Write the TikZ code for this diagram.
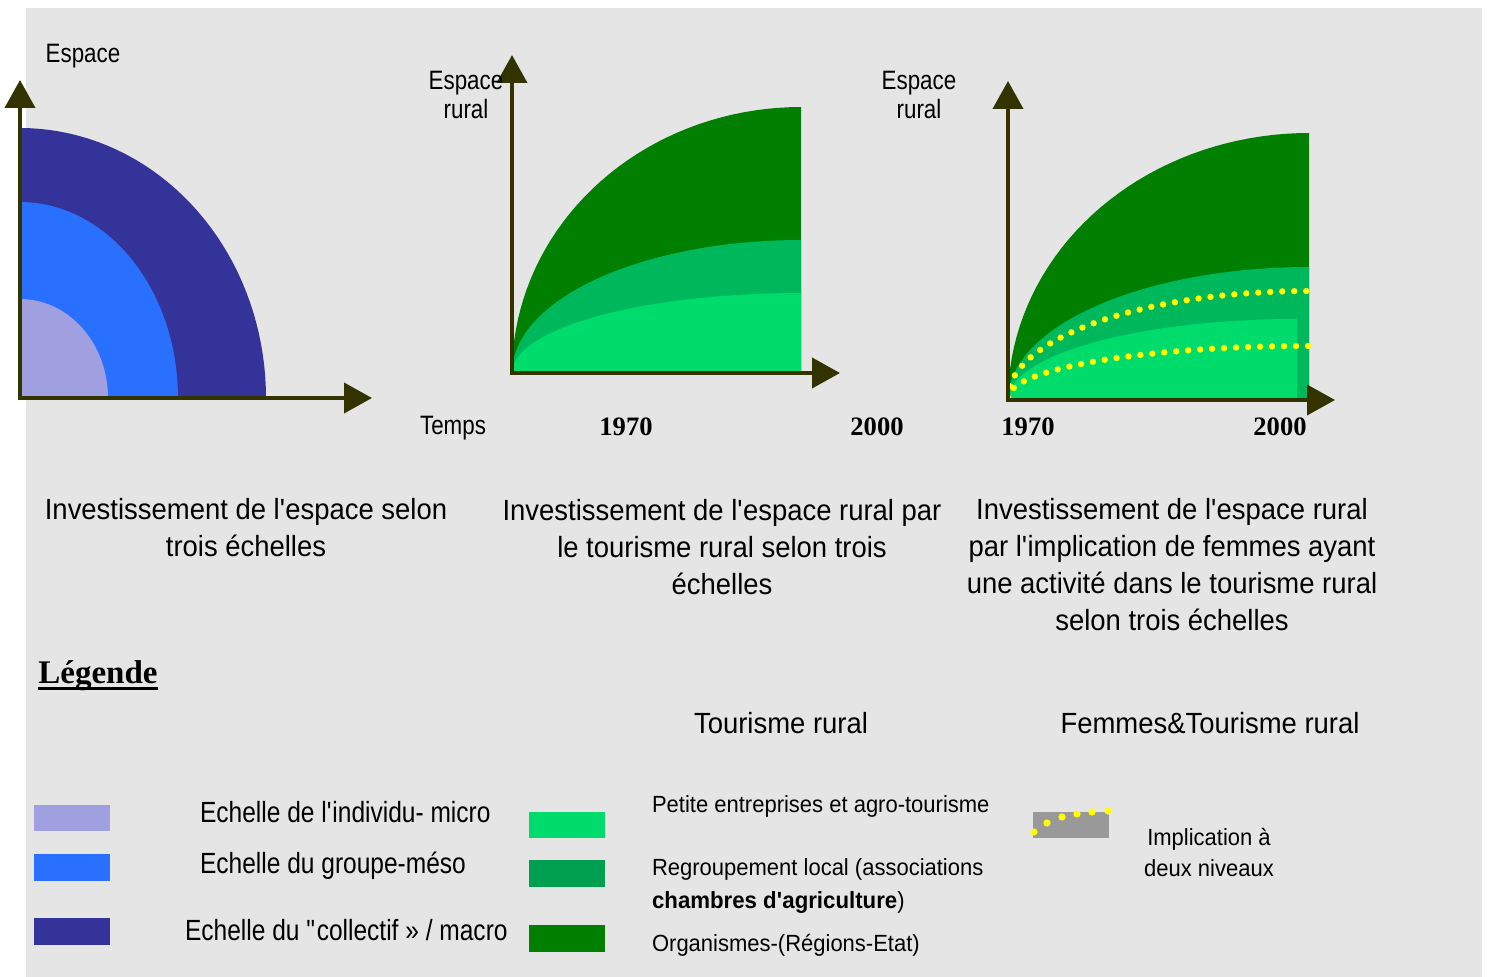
\documentclass[tikz,border=0pt]{standalone}
\usepackage{fontspec}
\setmainfont{Liberation Sans}[FakeStretch=0.94]
\newfontfamily\etroit{Liberation Sans}[FakeStretch=0.84]
\newfontfamily\largegras{Liberation Sans}[FakeStretch=0.95]
\newfontfamily\serifgras{Liberation Serif}
\usetikzlibrary{arrows.meta}

\definecolor{fond}{HTML}{E5E5E5}
\definecolor{axecol}{HTML}{333300}
\definecolor{micro}{HTML}{A0A0E0}
\definecolor{meso}{HTML}{2970FF}
\definecolor{macro}{HTML}{333399}
\definecolor{vertclair}{HTML}{00DC6C}
\definecolor{vertmoyen}{HTML}{00B85C}
\definecolor{vertlegende}{HTML}{00A050}
\definecolor{vertfonce}{HTML}{007F00}
\definecolor{gris}{HTML}{999999}
\definecolor{jaune}{HTML}{FFFF00}

\newcommand\apos{\textquotesingle}

\tikzset{
  axe/.style={draw=axecol, line width=2pt, -{Triangle[length=14pt,width=15pt]}},
  titre/.style={align=center, font=\fontsize{14.6}{18.5}\selectfont},
  etiquette/.style={align=center, font=\etroit\fontsize{13.3}{14.5}\selectfont},
  annee/.style={font=\serifgras\bfseries\fontsize{13.3}{16}\selectfont},
  echelle/.style={anchor=west, font=\etroit\fontsize{14.6}{17}\selectfont},
  petit/.style={anchor=west, font=\fontsize{11.7}{14}\selectfont},
  pointille/.style={draw=jaune, line width=3.2pt, line cap=round, dash pattern=on 0pt off 6pt}
}

\begin{document}
\begin{tikzpicture}[x=0.5pt, y=-0.5pt]
	\useasboundingbox (0,0) rectangle (1488,977);
	\fill[fond] (26,8) rectangle (1482,977);

	% espace selon trois echelles
	\coordinate (o1) at (20,398);
	\fill[macro] (o1) -- plot[domain=0:90, samples=40] ({20+246*cos(\x)}, {398-270*sin(\x)}) -- cycle;
	\fill[meso]  (o1) -- plot[domain=0:90, samples=40] ({20+158*cos(\x)}, {398-196*sin(\x)}) -- cycle;
	\fill[micro] (o1) -- plot[domain=0:90, samples=40] ({20+88*cos(\x)}, {398-99*sin(\x)}) -- cycle;
	\draw[axe] (18,398) -- (372,398);
	\draw[axe] (20,400) -- (20,80);
	\node[etiquette] (esp1) at (83,56) {Espace};

	% tourisme rural
	\coordinate (o2) at (512,373);
	\fill[vertfonce] (o2) -- plot[domain=180:90, samples=40] ({801+289*cos(\x)}, {373-266*sin(\x)}) -- (801,373) -- cycle;
	\fill[vertmoyen] (o2) -- plot[domain=180:90, samples=40] ({801+289*cos(\x)}, {373-133*sin(\x)}) -- (801,373) -- cycle;
	\fill[vertclair] (o2) -- plot[domain=180:90, samples=40] ({801+289*cos(\x)}, {373-80*sin(\x)}) -- (801,373) -- cycle;
	\draw[axe] (510,373) -- (840,373);
	\draw[axe] (512,375) -- (512,55);
	\node[etiquette] (esp2) at (466,95) {Espace\\rural};
	\node[etiquette] (temps) at (453,428) {Temps};
	\node[annee] (a2d) at (626,427) {1970};
	\node[annee] (a2f) at (877,427) {2000};

	% femmes et tourisme rural
	\coordinate (o3) at (1008,400);
	\fill[vertfonce] (o3) -- plot[domain=180:90, samples=40] ({1309+301*cos(\x)}, {400-267*sin(\x)}) -- (1309,400) -- cycle;
	\fill[vertmoyen] (o3) -- plot[domain=180:90, samples=40] ({1309+301*cos(\x)}, {400-133*sin(\x)}) -- (1309,400) -- cycle;
	\fill[vertclair] (o3) -- plot[domain=180:90, samples=40] ({1297+289*cos(\x)}, {400-81*sin(\x)}) -- (1297,400) -- cycle;
	\draw[pointille] plot[domain=180:90, samples=40] ({1309+301*cos(\x)}, {398-107*sin(\x)});
	\draw[pointille] plot[domain=180:90, samples=40] ({1309+301*cos(\x)}, {398-52*sin(\x)});
	\draw[axe] (1006,400) -- (1335,400);
	\draw[axe] (1008,402) -- (1008,81);
	\node[etiquette] (esp3) at (919,95) {Espace\\rural};
	\node[annee] (a3d) at (1028,427) {1970};
	\node[annee] (a3f) at (1280,427) {2000};

	% titres
	\node[titre] (t1) at (246,528) {Investissement de l\apos espace selon\\trois échelles};
	\node[titre] (t2) at (722,547) {Investissement de l\apos espace rural par\\le tourisme rural selon trois\\échelles};
	\node[titre] (t3) at (1172,565) {Investissement de l\apos espace rural\\par l\apos implication de femmes ayant\\une activité dans le tourisme rural\\selon trois échelles};

	% legende
	\node[anchor=base west, inner sep=0pt, font=\serifgras\bfseries\fontsize{16.5}{19}\selectfont] (leg) at (38,684) {Légende};
	\draw[line width=1.5pt] ([yshift=-2.4pt]leg.base west) -- ([yshift=-2.4pt]leg.base east);
	\node[titre] (tour) at (781,723) {Tourisme rural};
	\node[titre] (fem) at (1210,723) {Femmes\&Tourisme rural};

	\fill[micro] (34,805) rectangle (110,831);
	\fill[meso]  (34,854) rectangle (110,881);
	\fill[macro] (34,918) rectangle (110,945);
	\node[echelle] (l1) at (193,812) {Echelle de l\apos individu- micro};
	\node[echelle] (l2) at (193,866) {Echelle du groupe-méso};
	\node[echelle] (l3) at (178,930) {Echelle du \textquotedbl collectif » / macro};

	\fill[vertclair]   (529,812) rectangle (605,838);
	\fill[vertlegende] (529,860) rectangle (605,887);
	\fill[vertfonce]   (529,925) rectangle (605,952);
	\node[petit] (g1) at (645,806) {Petite entreprises et agro-tourisme};
	\node[petit] (g2) at (645,869) {Regroupement local (associations};
	\node[petit] (g3) at (645,902) {{\largegras\bfseries chambres d\apos agriculture})};
	\node[petit] (g4) at (645,945) {Organismes-(Régions-Etat)};

	\fill[gris] (1033,812) rectangle (1109,838);
	\foreach \p in {(1034,832),(1047,823),(1062,817),(1077,814),(1092,812),(1108,811)}
		\fill[jaune] \p circle[radius=1.8pt];
	\node[petit, anchor=center, align=center, font=\fontsize{11.7}{15.5}\selectfont] (impl) at (1209,852) {Implication à\\deux niveaux};
\end{tikzpicture}
\end{document}
